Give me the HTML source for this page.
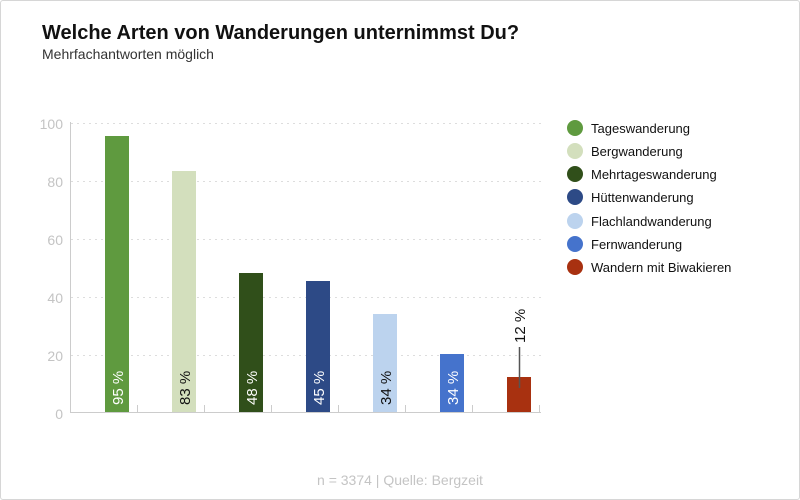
<!DOCTYPE html>
<html><head><style>
body{margin:0;background:#fff;}
#c{position:relative;width:798px;height:498px;border:1px solid #d6d6d6;border-radius:3px;font-family:"Liberation Sans",sans-serif;overflow:hidden}
</style></head><body><div id="c">
<svg width="798" height="498" viewBox="1 1 798 498" style="position:absolute;left:0;top:0" font-family="Liberation Sans, sans-serif">
<text x="42" y="39" font-size="20" font-weight="bold" fill="#111">Welche Arten von Wanderungen unternimmst Du?</text>
<text x="42" y="59" font-size="14" fill="#333">Mehrfachantworten möglich</text>
<g stroke="#ddd" stroke-dasharray="2,4" stroke-width="1">
<line x1="71" x2="545" y1="123.5" y2="123.5"/><line x1="71" x2="545" y1="181.5" y2="181.5"/><line x1="71" x2="545" y1="239.5" y2="239.5"/><line x1="71" x2="545" y1="297.5" y2="297.5"/><line x1="71" x2="545" y1="355.5" y2="355.5"/>
</g>
<g font-size="14" fill="#c4c4c4" text-anchor="end">
<text x="63" y="129">100</text><text x="63" y="187">80</text><text x="63" y="245">60</text><text x="63" y="303">40</text><text x="63" y="361">20</text><text x="63" y="419">0</text>
</g>
<line x1="70.5" x2="70.5" y1="122" y2="413" stroke="#ccc"/>
<line x1="70" x2="541" y1="412.5" y2="412.5" stroke="#ccc"/>
<g stroke="#ccc"><line x1="137.5" x2="137.5" y1="405" y2="413"/><line x1="204.5" x2="204.5" y1="405" y2="413"/><line x1="271.5" x2="271.5" y1="405" y2="413"/><line x1="338.5" x2="338.5" y1="405" y2="413"/><line x1="405.5" x2="405.5" y1="405" y2="413"/><line x1="472.5" x2="472.5" y1="405" y2="413"/><line x1="539.5" x2="539.5" y1="405" y2="413"/></g>
<rect x="105" y="136" width="24" height="276" fill="#5f9a3f"/>
<rect x="172" y="171" width="24" height="241" fill="#d3dfbd"/>
<rect x="239" y="273" width="24" height="139" fill="#304f1a"/>
<rect x="306" y="281" width="24" height="131" fill="#2d4a86"/>
<rect x="373" y="314" width="24" height="98" fill="#bcd3ee"/>
<rect x="440" y="354" width="24" height="58" fill="#4573cc"/>
<rect x="507" y="377" width="24" height="35" fill="#a83110"/>
<g font-size="15">
<text transform="translate(123,405) rotate(-90)" fill="#fff">95 %</text>
<text transform="translate(190,405) rotate(-90)" fill="#111">83 %</text>
<text transform="translate(257,405) rotate(-90)" fill="#fff">48 %</text>
<text transform="translate(324,405) rotate(-90)" fill="#fff">45 %</text>
<text transform="translate(391,405) rotate(-90)" fill="#111">34 %</text>
<text transform="translate(458,405) rotate(-90)" fill="#fff">34 %</text>
<text transform="translate(525,343) rotate(-90)" fill="#111">12 %</text>
</g>
<line x1="519.5" x2="519.5" y1="347" y2="388" stroke="#555" stroke-width="1.5"/>
<g font-size="13" fill="#111">
<circle cx="575" cy="128" r="8" fill="#5f9a3f"/><text x="591" y="133">Tageswanderung</text>
<circle cx="575" cy="151" r="8" fill="#d3dfbd"/><text x="591" y="156">Bergwanderung</text>
<circle cx="575" cy="174" r="8" fill="#304f1a"/><text x="591" y="179">Mehrtageswanderung</text>
<circle cx="575" cy="197" r="8" fill="#2d4a86"/><text x="591" y="202">Hüttenwanderung</text>
<circle cx="575" cy="221" r="8" fill="#bcd3ee"/><text x="591" y="226">Flachlandwanderung</text>
<circle cx="575" cy="244" r="8" fill="#4573cc"/><text x="591" y="249">Fernwanderung</text>
<circle cx="575" cy="267" r="8" fill="#a83110"/><text x="591" y="272">Wandern mit Biwakieren</text>
</g>
<text x="400" y="485" font-size="14" fill="#c4c4c4" text-anchor="middle">n = 3374  | Quelle: Bergzeit</text>
</svg>
</div></body></html>
